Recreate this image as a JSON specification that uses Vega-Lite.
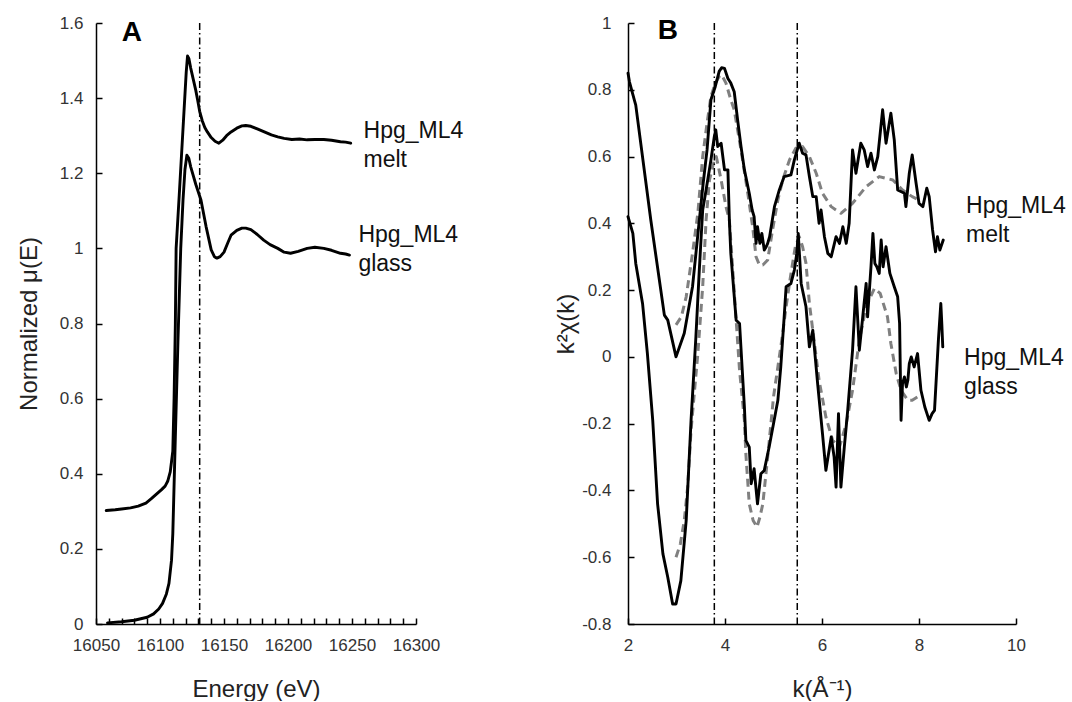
{
  "$schema": "https://vega.github.io/schema/vega-lite/v6.json",
  "background": "white",
  "padding": {"left": 17, "top": 14, "right": 0, "bottom": 0},
  "bounds": "flush",
  "spacing": 212,
  "config": {
    "view": {"stroke": null},
    "font": "Liberation Sans",
    "axis": {
      "grid": false,
      "domainColor": "#000",
      "domainWidth": 1.5,
      "tickColor": "#000",
      "tickWidth": 1.5,
      "tickSize": -6,
      "labelFont": "Liberation Sans",
      "labelFontSize": 17,
      "labelColor": "#333",
      "labelFlush": false,
      "labelOverlap": false,
      "labelBound": false,
      "titleFont": "Liberation Sans",
      "titleFontSize": 24,
      "titleFontWeight": "normal",
      "titleColor": "#222"
    }
  },
  "datasets": {
    "xanes": [
      {"sample": "melt", "E": 16058, "mu": 0.302}, {"sample": "melt", "E": 16065, "mu": 0.304}, {"sample": "melt", "E": 16070, "mu": 0.306},
      {"sample": "melt", "E": 16077, "mu": 0.309}, {"sample": "melt", "E": 16083, "mu": 0.314}, {"sample": "melt", "E": 16089, "mu": 0.322},
      {"sample": "melt", "E": 16093, "mu": 0.333}, {"sample": "melt", "E": 16097, "mu": 0.345}, {"sample": "melt", "E": 16101, "mu": 0.357},
      {"sample": "melt", "E": 16104, "mu": 0.367}, {"sample": "melt", "E": 16106, "mu": 0.38}, {"sample": "melt", "E": 16108, "mu": 0.405},
      {"sample": "melt", "E": 16110, "mu": 0.46}, {"sample": "melt", "E": 16111, "mu": 0.6}, {"sample": "melt", "E": 16112, "mu": 0.8},
      {"sample": "melt", "E": 16112.6, "mu": 1.0}, {"sample": "melt", "E": 16115, "mu": 1.14}, {"sample": "melt", "E": 16117, "mu": 1.26},
      {"sample": "melt", "E": 16119, "mu": 1.38}, {"sample": "melt", "E": 16120.5, "mu": 1.47}, {"sample": "melt", "E": 16121.5, "mu": 1.512},
      {"sample": "melt", "E": 16122.6, "mu": 1.505}, {"sample": "melt", "E": 16124, "mu": 1.48}, {"sample": "melt", "E": 16126, "mu": 1.45},
      {"sample": "melt", "E": 16128, "mu": 1.42}, {"sample": "melt", "E": 16129.4, "mu": 1.395}, {"sample": "melt", "E": 16131, "mu": 1.365},
      {"sample": "melt", "E": 16133, "mu": 1.34}, {"sample": "melt", "E": 16135, "mu": 1.322}, {"sample": "melt", "E": 16137, "mu": 1.31},
      {"sample": "melt", "E": 16140, "mu": 1.295}, {"sample": "melt", "E": 16143, "mu": 1.285}, {"sample": "melt", "E": 16146, "mu": 1.28},
      {"sample": "melt", "E": 16149, "mu": 1.288}, {"sample": "melt", "E": 16152, "mu": 1.3}, {"sample": "melt", "E": 16155.5, "mu": 1.31},
      {"sample": "melt", "E": 16160, "mu": 1.32}, {"sample": "melt", "E": 16164, "mu": 1.326}, {"sample": "melt", "E": 16167, "mu": 1.327},
      {"sample": "melt", "E": 16171, "mu": 1.325}, {"sample": "melt", "E": 16176, "mu": 1.318}, {"sample": "melt", "E": 16181.5, "mu": 1.31},
      {"sample": "melt", "E": 16187, "mu": 1.302}, {"sample": "melt", "E": 16192, "mu": 1.297}, {"sample": "melt", "E": 16197, "mu": 1.293},
      {"sample": "melt", "E": 16203, "mu": 1.29}, {"sample": "melt", "E": 16209, "mu": 1.291}, {"sample": "melt", "E": 16215, "mu": 1.289},
      {"sample": "melt", "E": 16221, "mu": 1.29}, {"sample": "melt", "E": 16228, "mu": 1.29}, {"sample": "melt", "E": 16234, "mu": 1.288},
      {"sample": "melt", "E": 16241, "mu": 1.284}, {"sample": "melt", "E": 16245, "mu": 1.283}, {"sample": "melt", "E": 16249, "mu": 1.28},
      {"sample": "glass", "E": 16059, "mu": 0.003}, {"sample": "glass", "E": 16070, "mu": 0.006}, {"sample": "glass", "E": 16080, "mu": 0.01},
      {"sample": "glass", "E": 16090, "mu": 0.018}, {"sample": "glass", "E": 16095, "mu": 0.027}, {"sample": "glass", "E": 16099, "mu": 0.04},
      {"sample": "glass", "E": 16102, "mu": 0.055}, {"sample": "glass", "E": 16105, "mu": 0.08}, {"sample": "glass", "E": 16107, "mu": 0.108},
      {"sample": "glass", "E": 16109, "mu": 0.17}, {"sample": "glass", "E": 16110, "mu": 0.24}, {"sample": "glass", "E": 16110.7, "mu": 0.33},
      {"sample": "glass", "E": 16112, "mu": 0.5}, {"sample": "glass", "E": 16114, "mu": 0.75}, {"sample": "glass", "E": 16116.2, "mu": 1.0},
      {"sample": "glass", "E": 16118, "mu": 1.13}, {"sample": "glass", "E": 16119.5, "mu": 1.21}, {"sample": "glass", "E": 16121, "mu": 1.248},
      {"sample": "glass", "E": 16122.5, "mu": 1.24}, {"sample": "glass", "E": 16124, "mu": 1.217}, {"sample": "glass", "E": 16128, "mu": 1.17},
      {"sample": "glass", "E": 16132, "mu": 1.129}, {"sample": "glass", "E": 16136, "mu": 1.058}, {"sample": "glass", "E": 16140, "mu": 0.996},
      {"sample": "glass", "E": 16142.5, "mu": 0.978}, {"sample": "glass", "E": 16144.5, "mu": 0.974}, {"sample": "glass", "E": 16147, "mu": 0.978},
      {"sample": "glass", "E": 16150, "mu": 0.99}, {"sample": "glass", "E": 16153, "mu": 1.015}, {"sample": "glass", "E": 16155.5, "mu": 1.035},
      {"sample": "glass", "E": 16160, "mu": 1.048}, {"sample": "glass", "E": 16164, "mu": 1.054}, {"sample": "glass", "E": 16167, "mu": 1.054},
      {"sample": "glass", "E": 16171, "mu": 1.05}, {"sample": "glass", "E": 16176, "mu": 1.037}, {"sample": "glass", "E": 16181, "mu": 1.022},
      {"sample": "glass", "E": 16186, "mu": 1.01}, {"sample": "glass", "E": 16192, "mu": 1.0}, {"sample": "glass", "E": 16197, "mu": 0.99},
      {"sample": "glass", "E": 16202, "mu": 0.987}, {"sample": "glass", "E": 16208, "mu": 0.992}, {"sample": "glass", "E": 16215, "mu": 1.0},
      {"sample": "glass", "E": 16221, "mu": 1.003}, {"sample": "glass", "E": 16228, "mu": 1.0}, {"sample": "glass", "E": 16234, "mu": 0.995},
      {"sample": "glass", "E": 16241, "mu": 0.987}, {"sample": "glass", "E": 16245, "mu": 0.985}, {"sample": "glass", "E": 16248, "mu": 0.982}
    ],
    "edgeA": [{"E": 16131}],
    "labelsA": [
      {"E": 16259, "mu": 1.294, "label": "Hpg_ML4\nmelt"},
      {"E": 16255, "mu": 1.017, "label": "Hpg_ML4\nglass"}
    ],
    "panelA": [{"E": 16078, "mu": 1.573, "label": "A"}],
    "exafs": [
      {"series": "melt data", "k": 2.0, "chi": 0.85}, {"series": "melt data", "k": 2.03, "chi": 0.824}, {"series": "melt data", "k": 2.13, "chi": 0.77},
      {"series": "melt data", "k": 2.16, "chi": 0.754}, {"series": "melt data", "k": 2.47, "chi": 0.41}, {"series": "melt data", "k": 2.75, "chi": 0.125},
      {"series": "melt data", "k": 2.82, "chi": 0.11}, {"series": "melt data", "k": 2.99, "chi": 0.0}, {"series": "melt data", "k": 3.16, "chi": 0.071},
      {"series": "melt data", "k": 3.33, "chi": 0.21}, {"series": "melt data", "k": 3.45, "chi": 0.38}, {"series": "melt data", "k": 3.55, "chi": 0.52},
      {"series": "melt data", "k": 3.63, "chi": 0.62}, {"series": "melt data", "k": 3.71, "chi": 0.77}, {"series": "melt data", "k": 3.8, "chi": 0.81},
      {"series": "melt data", "k": 3.88, "chi": 0.855}, {"series": "melt data", "k": 3.93, "chi": 0.866}, {"series": "melt data", "k": 3.99, "chi": 0.864},
      {"series": "melt data", "k": 4.06, "chi": 0.834}, {"series": "melt data", "k": 4.12, "chi": 0.82}, {"series": "melt data", "k": 4.19, "chi": 0.794},
      {"series": "melt data", "k": 4.26, "chi": 0.71}, {"series": "melt data", "k": 4.33, "chi": 0.63}, {"series": "melt data", "k": 4.4, "chi": 0.56},
      {"series": "melt data", "k": 4.5, "chi": 0.49}, {"series": "melt data", "k": 4.56, "chi": 0.44}, {"series": "melt data", "k": 4.6, "chi": 0.42},
      {"series": "melt data", "k": 4.64, "chi": 0.34}, {"series": "melt data", "k": 4.67, "chi": 0.39}, {"series": "melt data", "k": 4.72, "chi": 0.34},
      {"series": "melt data", "k": 4.76, "chi": 0.37}, {"series": "melt data", "k": 4.81, "chi": 0.32}, {"series": "melt data", "k": 4.85, "chi": 0.33},
      {"series": "melt data", "k": 4.88, "chi": 0.34}, {"series": "melt data", "k": 4.92, "chi": 0.36}, {"series": "melt data", "k": 5.02, "chi": 0.45},
      {"series": "melt data", "k": 5.12, "chi": 0.5}, {"series": "melt data", "k": 5.22, "chi": 0.54}, {"series": "melt data", "k": 5.36, "chi": 0.545},
      {"series": "melt data", "k": 5.43, "chi": 0.59}, {"series": "melt data", "k": 5.53, "chi": 0.64}, {"series": "melt data", "k": 5.6, "chi": 0.61},
      {"series": "melt data", "k": 5.67, "chi": 0.605}, {"series": "melt data", "k": 5.74, "chi": 0.54}, {"series": "melt data", "k": 5.81, "chi": 0.48},
      {"series": "melt data", "k": 5.88, "chi": 0.48}, {"series": "melt data", "k": 5.94, "chi": 0.4}, {"series": "melt data", "k": 5.98, "chi": 0.44},
      {"series": "melt data", "k": 6.05, "chi": 0.36}, {"series": "melt data", "k": 6.12, "chi": 0.31}, {"series": "melt data", "k": 6.19, "chi": 0.3},
      {"series": "melt data", "k": 6.29, "chi": 0.36}, {"series": "melt data", "k": 6.36, "chi": 0.34}, {"series": "melt data", "k": 6.43, "chi": 0.39},
      {"series": "melt data", "k": 6.5, "chi": 0.34}, {"series": "melt data", "k": 6.56, "chi": 0.4}, {"series": "melt data", "k": 6.63, "chi": 0.62},
      {"series": "melt data", "k": 6.7, "chi": 0.55}, {"series": "melt data", "k": 6.8, "chi": 0.64}, {"series": "melt data", "k": 6.87, "chi": 0.62},
      {"series": "melt data", "k": 6.94, "chi": 0.57}, {"series": "melt data", "k": 7.01, "chi": 0.61}, {"series": "melt data", "k": 7.08, "chi": 0.56},
      {"series": "melt data", "k": 7.15, "chi": 0.6}, {"series": "melt data", "k": 7.25, "chi": 0.74}, {"series": "melt data", "k": 7.32, "chi": 0.64},
      {"series": "melt data", "k": 7.42, "chi": 0.73}, {"series": "melt data", "k": 7.49, "chi": 0.65}, {"series": "melt data", "k": 7.56, "chi": 0.5},
      {"series": "melt data", "k": 7.7, "chi": 0.49}, {"series": "melt data", "k": 7.73, "chi": 0.45}, {"series": "melt data", "k": 7.8, "chi": 0.55},
      {"series": "melt data", "k": 7.86, "chi": 0.605}, {"series": "melt data", "k": 7.94, "chi": 0.52}, {"series": "melt data", "k": 8.0, "chi": 0.46},
      {"series": "melt data", "k": 8.08, "chi": 0.45}, {"series": "melt data", "k": 8.16, "chi": 0.505}, {"series": "melt data", "k": 8.21, "chi": 0.48},
      {"series": "melt data", "k": 8.28, "chi": 0.38}, {"series": "melt data", "k": 8.34, "chi": 0.315}, {"series": "melt data", "k": 8.38, "chi": 0.36},
      {"series": "melt data", "k": 8.43, "chi": 0.32}, {"series": "melt data", "k": 8.5, "chi": 0.35},

      {"series": "glass data", "k": 2.0, "chi": 0.42}, {"series": "glass data", "k": 2.1, "chi": 0.37}, {"series": "glass data", "k": 2.16, "chi": 0.28},
      {"series": "glass data", "k": 2.3, "chi": 0.16}, {"series": "glass data", "k": 2.4, "chi": 0.01}, {"series": "glass data", "k": 2.51, "chi": -0.19},
      {"series": "glass data", "k": 2.61, "chi": -0.44}, {"series": "glass data", "k": 2.72, "chi": -0.59}, {"series": "glass data", "k": 2.82, "chi": -0.66},
      {"series": "glass data", "k": 2.92, "chi": -0.74}, {"series": "glass data", "k": 2.99, "chi": -0.74}, {"series": "glass data", "k": 3.09, "chi": -0.67},
      {"series": "glass data", "k": 3.2, "chi": -0.49}, {"series": "glass data", "k": 3.3, "chi": -0.19}, {"series": "glass data", "k": 3.4, "chi": 0.06},
      {"series": "glass data", "k": 3.47, "chi": 0.26}, {"series": "glass data", "k": 3.54, "chi": 0.44}, {"series": "glass data", "k": 3.61, "chi": 0.5},
      {"series": "glass data", "k": 3.71, "chi": 0.59}, {"series": "glass data", "k": 3.78, "chi": 0.66}, {"series": "glass data", "k": 3.81, "chi": 0.68},
      {"series": "glass data", "k": 3.85, "chi": 0.63}, {"series": "glass data", "k": 3.92, "chi": 0.64}, {"series": "glass data", "k": 3.99, "chi": 0.56},
      {"series": "glass data", "k": 4.06, "chi": 0.56}, {"series": "glass data", "k": 4.09, "chi": 0.41}, {"series": "glass data", "k": 4.12, "chi": 0.31},
      {"series": "glass data", "k": 4.23, "chi": 0.11}, {"series": "glass data", "k": 4.3, "chi": 0.1}, {"series": "glass data", "k": 4.4, "chi": -0.15},
      {"series": "glass data", "k": 4.43, "chi": -0.25}, {"series": "glass data", "k": 4.5, "chi": -0.27}, {"series": "glass data", "k": 4.54, "chi": -0.38},
      {"series": "glass data", "k": 4.6, "chi": -0.335}, {"series": "glass data", "k": 4.67, "chi": -0.44}, {"series": "glass data", "k": 4.74, "chi": -0.35},
      {"series": "glass data", "k": 4.81, "chi": -0.34}, {"series": "glass data", "k": 4.91, "chi": -0.27}, {"series": "glass data", "k": 5.0, "chi": -0.2},
      {"series": "glass data", "k": 5.09, "chi": -0.13}, {"series": "glass data", "k": 5.15, "chi": -0.03}, {"series": "glass data", "k": 5.22, "chi": 0.12},
      {"series": "glass data", "k": 5.26, "chi": 0.21}, {"series": "glass data", "k": 5.36, "chi": 0.22}, {"series": "glass data", "k": 5.43, "chi": 0.26},
      {"series": "glass data", "k": 5.48, "chi": 0.31}, {"series": "glass data", "k": 5.51, "chi": 0.37}, {"series": "glass data", "k": 5.57, "chi": 0.22},
      {"series": "glass data", "k": 5.67, "chi": 0.15}, {"series": "glass data", "k": 5.74, "chi": 0.03}, {"series": "glass data", "k": 5.81, "chi": 0.08},
      {"series": "glass data", "k": 5.91, "chi": -0.08}, {"series": "glass data", "k": 6.01, "chi": -0.23}, {"series": "glass data", "k": 6.08, "chi": -0.34},
      {"series": "glass data", "k": 6.19, "chi": -0.24}, {"series": "glass data", "k": 6.25, "chi": -0.3}, {"series": "glass data", "k": 6.29, "chi": -0.39},
      {"series": "glass data", "k": 6.34, "chi": -0.17}, {"series": "glass data", "k": 6.39, "chi": -0.39}, {"series": "glass data", "k": 6.46, "chi": -0.27},
      {"series": "glass data", "k": 6.53, "chi": -0.16}, {"series": "glass data", "k": 6.63, "chi": 0.02}, {"series": "glass data", "k": 6.7, "chi": 0.21},
      {"series": "glass data", "k": 6.77, "chi": 0.02}, {"series": "glass data", "k": 6.84, "chi": 0.12}, {"series": "glass data", "k": 6.91, "chi": 0.22},
      {"series": "glass data", "k": 6.94, "chi": 0.12}, {"series": "glass data", "k": 7.01, "chi": 0.27}, {"series": "glass data", "k": 7.05, "chi": 0.37},
      {"series": "glass data", "k": 7.09, "chi": 0.28}, {"series": "glass data", "k": 7.13, "chi": 0.27}, {"series": "glass data", "k": 7.18, "chi": 0.25},
      {"series": "glass data", "k": 7.22, "chi": 0.35}, {"series": "glass data", "k": 7.26, "chi": 0.27}, {"series": "glass data", "k": 7.32, "chi": 0.33},
      {"series": "glass data", "k": 7.4, "chi": 0.25}, {"series": "glass data", "k": 7.49, "chi": 0.21}, {"series": "glass data", "k": 7.56, "chi": 0.18},
      {"series": "glass data", "k": 7.6, "chi": 0.1}, {"series": "glass data", "k": 7.63, "chi": -0.19}, {"series": "glass data", "k": 7.66, "chi": -0.08},
      {"series": "glass data", "k": 7.7, "chi": -0.06}, {"series": "glass data", "k": 7.74, "chi": -0.09}, {"series": "glass data", "k": 7.77, "chi": -0.07},
      {"series": "glass data", "k": 7.8, "chi": -0.02}, {"series": "glass data", "k": 7.84, "chi": 0.0}, {"series": "glass data", "k": 7.9, "chi": -0.03},
      {"series": "glass data", "k": 7.97, "chi": 0.01}, {"series": "glass data", "k": 8.04, "chi": -0.1}, {"series": "glass data", "k": 8.12, "chi": -0.15},
      {"series": "glass data", "k": 8.21, "chi": -0.19}, {"series": "glass data", "k": 8.27, "chi": -0.17}, {"series": "glass data", "k": 8.32, "chi": -0.16},
      {"series": "glass data", "k": 8.4, "chi": 0.05}, {"series": "glass data", "k": 8.45, "chi": 0.16}, {"series": "glass data", "k": 8.47, "chi": 0.1},
      {"series": "glass data", "k": 8.49, "chi": 0.03}
    ],
    "fits": [
      {"series": "melt fit", "k": 2.99, "chi": 0.096}, {"series": "melt fit", "k": 3.1, "chi": 0.12}, {"series": "melt fit", "k": 3.2, "chi": 0.18},
      {"series": "melt fit", "k": 3.33, "chi": 0.31}, {"series": "melt fit", "k": 3.44, "chi": 0.43}, {"series": "melt fit", "k": 3.54, "chi": 0.6},
      {"series": "melt fit", "k": 3.63, "chi": 0.7}, {"series": "melt fit", "k": 3.71, "chi": 0.78}, {"series": "melt fit", "k": 3.8, "chi": 0.82},
      {"series": "melt fit", "k": 3.88, "chi": 0.84}, {"series": "melt fit", "k": 3.93, "chi": 0.845}, {"series": "melt fit", "k": 4.02, "chi": 0.82},
      {"series": "melt fit", "k": 4.12, "chi": 0.77}, {"series": "melt fit", "k": 4.19, "chi": 0.74}, {"series": "melt fit", "k": 4.33, "chi": 0.62},
      {"series": "melt fit", "k": 4.47, "chi": 0.49}, {"series": "melt fit", "k": 4.57, "chi": 0.39}, {"series": "melt fit", "k": 4.64, "chi": 0.3},
      {"series": "melt fit", "k": 4.71, "chi": 0.275}, {"series": "melt fit", "k": 4.78, "chi": 0.275}, {"series": "melt fit", "k": 4.88, "chi": 0.29},
      {"series": "melt fit", "k": 4.98, "chi": 0.38}, {"series": "melt fit", "k": 5.09, "chi": 0.47}, {"series": "melt fit", "k": 5.19, "chi": 0.53},
      {"series": "melt fit", "k": 5.33, "chi": 0.59}, {"series": "melt fit", "k": 5.46, "chi": 0.625}, {"series": "melt fit", "k": 5.6, "chi": 0.63},
      {"series": "melt fit", "k": 5.74, "chi": 0.6}, {"series": "melt fit", "k": 5.88, "chi": 0.55}, {"series": "melt fit", "k": 6.01, "chi": 0.49},
      {"series": "melt fit", "k": 6.19, "chi": 0.45}, {"series": "melt fit", "k": 6.39, "chi": 0.43}, {"series": "melt fit", "k": 6.63, "chi": 0.46},
      {"series": "melt fit", "k": 6.91, "chi": 0.51}, {"series": "melt fit", "k": 7.18, "chi": 0.54}, {"series": "melt fit", "k": 7.46, "chi": 0.53},
      {"series": "melt fit", "k": 7.66, "chi": 0.5}, {"series": "melt fit", "k": 7.86, "chi": 0.48}, {"series": "melt fit", "k": 8.0, "chi": 0.47},

      {"series": "glass fit", "k": 2.99, "chi": -0.6}, {"series": "glass fit", "k": 3.08, "chi": -0.56}, {"series": "glass fit", "k": 3.16, "chi": -0.49},
      {"series": "glass fit", "k": 3.23, "chi": -0.39}, {"series": "glass fit", "k": 3.3, "chi": -0.22}, {"series": "glass fit", "k": 3.33, "chi": -0.17},
      {"series": "glass fit", "k": 3.44, "chi": 0.01}, {"series": "glass fit", "k": 3.54, "chi": 0.21}, {"series": "glass fit", "k": 3.61, "chi": 0.41},
      {"series": "glass fit", "k": 3.68, "chi": 0.53}, {"series": "glass fit", "k": 3.78, "chi": 0.59}, {"series": "glass fit", "k": 3.82, "chi": 0.6},
      {"series": "glass fit", "k": 3.92, "chi": 0.53}, {"series": "glass fit", "k": 4.02, "chi": 0.45}, {"series": "glass fit", "k": 4.09, "chi": 0.41},
      {"series": "glass fit", "k": 4.23, "chi": 0.11}, {"series": "glass fit", "k": 4.3, "chi": -0.04}, {"series": "glass fit", "k": 4.4, "chi": -0.19},
      {"series": "glass fit", "k": 4.43, "chi": -0.29}, {"series": "glass fit", "k": 4.5, "chi": -0.44}, {"series": "glass fit", "k": 4.58, "chi": -0.49},
      {"series": "glass fit", "k": 4.66, "chi": -0.51}, {"series": "glass fit", "k": 4.72, "chi": -0.48}, {"series": "glass fit", "k": 4.78, "chi": -0.44},
      {"series": "glass fit", "k": 4.88, "chi": -0.3}, {"series": "glass fit", "k": 5.0, "chi": -0.12}, {"series": "glass fit", "k": 5.09, "chi": -0.03},
      {"series": "glass fit", "k": 5.18, "chi": 0.06}, {"series": "glass fit", "k": 5.26, "chi": 0.15}, {"series": "glass fit", "k": 5.36, "chi": 0.25},
      {"series": "glass fit", "k": 5.45, "chi": 0.33}, {"series": "glass fit", "k": 5.53, "chi": 0.36}, {"series": "glass fit", "k": 5.6, "chi": 0.33},
      {"series": "glass fit", "k": 5.67, "chi": 0.28}, {"series": "glass fit", "k": 5.74, "chi": 0.16}, {"series": "glass fit", "k": 5.81, "chi": 0.08},
      {"series": "glass fit", "k": 5.94, "chi": -0.07}, {"series": "glass fit", "k": 6.08, "chi": -0.18}, {"series": "glass fit", "k": 6.22, "chi": -0.25},
      {"series": "glass fit", "k": 6.36, "chi": -0.27}, {"series": "glass fit", "k": 6.5, "chi": -0.2}, {"series": "glass fit", "k": 6.63, "chi": -0.1},
      {"series": "glass fit", "k": 6.77, "chi": 0.05}, {"series": "glass fit", "k": 6.91, "chi": 0.15}, {"series": "glass fit", "k": 7.08, "chi": 0.205},
      {"series": "glass fit", "k": 7.2, "chi": 0.19}, {"series": "glass fit", "k": 7.35, "chi": 0.12}, {"series": "glass fit", "k": 7.42, "chi": 0.04},
      {"series": "glass fit", "k": 7.53, "chi": -0.05}, {"series": "glass fit", "k": 7.63, "chi": -0.1}, {"series": "glass fit", "k": 7.77, "chi": -0.13},
      {"series": "glass fit", "k": 7.86, "chi": -0.13}, {"series": "glass fit", "k": 7.97, "chi": -0.12}
    ],
    "edgeB": [{"k": 3.78}, {"k": 5.49}],
    "labelsB": [
      {"k": 8.97, "chi": 0.431, "label": "Hpg_ML4\nmelt"},
      {"k": 8.93, "chi": -0.024, "label": "Hpg_ML4\nglass"}
    ],
    "panelB": [{"k": 2.82, "chi": 0.976, "label": "B"}]
  },
  "hconcat": [
    {
      "width": 320,
      "height": 601,
      "layer": [
        {
          "data": {"name": "xanes"},
          "mark": {"type": "line", "color": "#000", "strokeWidth": 2.9, "strokeJoin": "round", "strokeCap": "round"},
          "encoding": {
            "x": {
              "field": "E", "type": "quantitative",
              "scale": {"domain": [16050, 16300], "nice": false, "zero": false},
              "axis": {
                "title": "Energy (eV)",
                "values": [16050, 16060, 16070, 16080, 16090, 16100, 16110, 16120, 16130, 16140, 16150, 16160, 16170, 16180, 16190, 16200, 16210, 16220, 16230, 16240, 16250, 16260, 16270, 16280, 16290, 16300],
                "tickCount": 40,
                "labelExpr": "datum.value % 50 == 0 ? format(datum.value, 'd') : ''",
                "labelPadding": 19,
                "titlePadding": 24,
                "labelOverlap": false,
                "labelFlush": false
              }
            },
            "y": {
              "field": "mu", "type": "quantitative",
              "scale": {"domain": [0, 1.6], "nice": false},
              "axis": {
                "title": "Normalized μ(E)",
                "values": [0, 0.2, 0.4, 0.6, 0.8, 1, 1.2, 1.4, 1.6],
                "tickCount": 20,
                "labelExpr": "format(datum.value, '~g')",
                "labelPadding": 19,
                "titlePadding": 18
              }
            },
            "detail": {"field": "sample"},
            "order": {"field": "E", "type": "quantitative"}
          }
        },
        {
          "data": {"name": "edgeA"},
          "mark": {"type": "rule", "color": "#000", "strokeWidth": 1.5, "strokeDash": [7, 3, 1.5, 3]},
          "encoding": {"x": {"field": "E", "type": "quantitative"}}
        },
        {
          "data": {"name": "labelsA"},
          "mark": {"type": "text", "align": "left", "baseline": "alphabetic", "fontSize": 23, "font": "Liberation Sans", "color": "#111", "lineBreak": "\n", "lineHeight": 29},
          "encoding": {
            "x": {"field": "E", "type": "quantitative"},
            "y": {"field": "mu", "type": "quantitative"},
            "text": {"field": "label"}
          }
        },
        {
          "data": {"name": "panelA"},
          "mark": {"type": "text", "align": "center", "baseline": "middle", "fontSize": 28, "fontWeight": "bold", "font": "Liberation Sans", "color": "#000"},
          "encoding": {
            "x": {"field": "E", "type": "quantitative"},
            "y": {"field": "mu", "type": "quantitative"},
            "text": {"field": "label"}
          }
        }
      ]
    },
    {
      "width": 388,
      "height": 601,
      "layer": [
        {
          "data": {"name": "fits"},
          "mark": {"type": "line", "color": "#808080", "strokeWidth": 3, "strokeDash": [8, 5], "strokeJoin": "round"},
          "encoding": {
            "x": {
              "field": "k", "type": "quantitative",
              "scale": {"domain": [2, 10], "nice": false, "zero": false},
              "axis": {
                "title": "k(Å⁻¹)",
                "values": [2, 4, 6, 8, 10],
                "tickCount": 10,
                "labelPadding": 19,
                "titlePadding": 24,
                "labelFlush": false
              }
            },
            "y": {
              "field": "chi", "type": "quantitative",
              "scale": {"domain": [-0.8, 1], "nice": false, "zero": false},
              "axis": {
                "title": "k²χ(k)",
                "values": [-0.8, -0.6, -0.4, -0.2, 0, 0.2, 0.4, 0.6, 0.8, 1],
                "tickCount": 20,
                "labelExpr": "replace(format(datum.value, '~g'), '\u2212', '-')",
                "labelPadding": 23,
                "titlePadding": 3
              }
            },
            "detail": {"field": "series"},
            "order": {"field": "k", "type": "quantitative"}
          }
        },
        {
          "data": {"name": "exafs"},
          "mark": {"type": "line", "color": "#000", "strokeWidth": 2.9, "strokeJoin": "round", "strokeCap": "round"},
          "encoding": {
            "x": {"field": "k", "type": "quantitative"},
            "y": {"field": "chi", "type": "quantitative"},
            "detail": {"field": "series"},
            "order": {"field": "k", "type": "quantitative"}
          }
        },
        {
          "data": {"name": "edgeB"},
          "mark": {"type": "rule", "color": "#000", "strokeWidth": 1.5, "strokeDash": [7, 3, 1.5, 3]},
          "encoding": {"x": {"field": "k", "type": "quantitative"}}
        },
        {
          "data": {"name": "labelsB"},
          "mark": {"type": "text", "align": "left", "baseline": "alphabetic", "fontSize": 23, "font": "Liberation Sans", "color": "#111", "lineBreak": "\n", "lineHeight": 29},
          "encoding": {
            "x": {"field": "k", "type": "quantitative"},
            "y": {"field": "chi", "type": "quantitative"},
            "text": {"field": "label"}
          }
        },
        {
          "data": {"name": "panelB"},
          "mark": {"type": "text", "align": "center", "baseline": "middle", "fontSize": 28, "fontWeight": "bold", "font": "Liberation Sans", "color": "#000"},
          "encoding": {
            "x": {"field": "k", "type": "quantitative"},
            "y": {"field": "chi", "type": "quantitative"},
            "text": {"field": "label"}
          }
        }
      ]
    }
  ]
}
